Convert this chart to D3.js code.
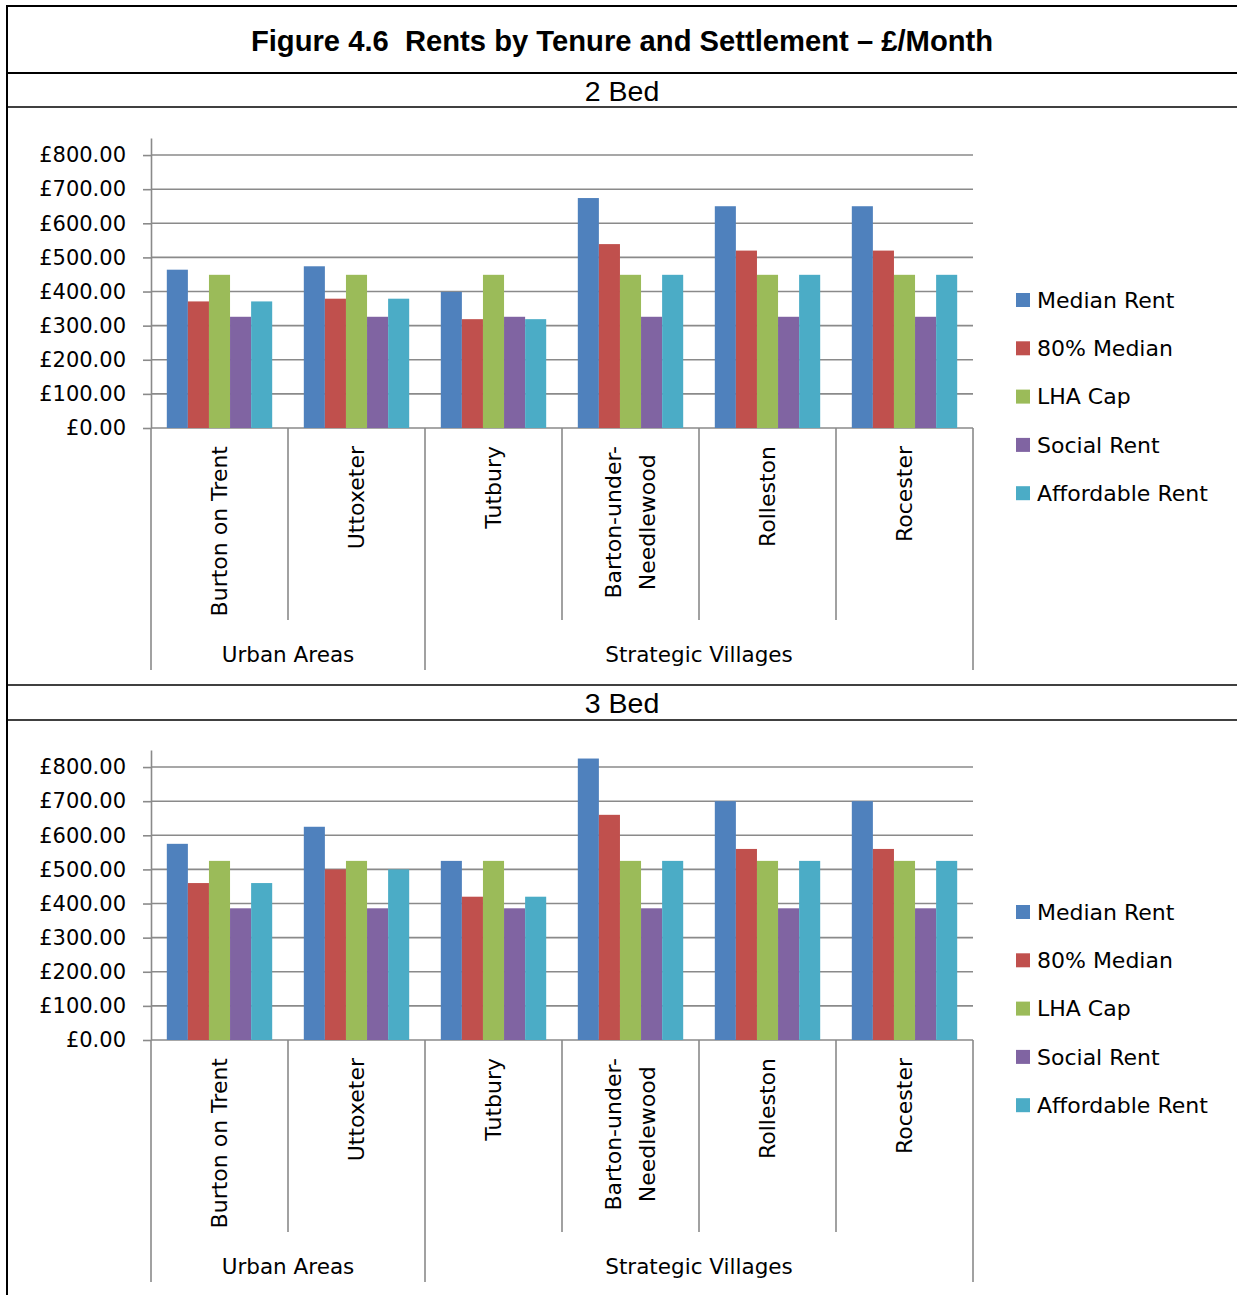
<!DOCTYPE html>
<html>
<head>
  <meta charset='utf-8'>
  <title>Figure 4.6 Rents by Tenure and Settlement</title>
  <script src='https://cdn.jsdelivr.net/npm/d3@7'></script>
  <style>
    body { margin: 0; background: #fff; }
    .table-text { font-family: 'Liberation Sans', Arial, sans-serif; fill: #000; white-space: pre; }
    .chart-text { font-family: 'DejaVu Sans', sans-serif; fill: #000; }
  </style>
</head>
<body>
  <div id='figure'></div>
  <script>
    // settlements, grouped by settlement type
    const settlements = ['Burton on Trent', 'Uttoxeter', 'Tutbury',
        'Barton-under-Needlewood', 'Rolleston', 'Rocester'];
    const settlementLabels = [['Burton on Trent'], ['Uttoxeter'], ['Tutbury'],
        ['Barton-under-', 'Needlewood'], ['Rolleston'], ['Rocester']];
    const groupNames = ['Urban Areas', 'Strategic Villages'];
    const groupSizes = [2, 4];

    const seriesNames = ['Median Rent', '80% Median', 'LHA Cap',
        'Social Rent', 'Affordable Rent'];
    const seriesColors = ['#4f81bd', '#c0504d', '#9bbb59', '#8064a2', '#4bacc6'];

    const yTicks = [0, 100, 200, 300, 400, 500, 600, 700, 800];

    // 2 bed rents (£/month)
    const medianRent2 = [464, 474, 399, 674, 650, 650];
    const pct80Median2 = [371, 379, 319, 539, 520, 520];
    const lhaCap2 = [449, 449, 449, 449, 449, 449];
    const socialRent2 = [326, 326, 326, 326, 326, 326];
    const affordableRent2 = [371, 379, 319, 449, 449, 449];

    // 3 bed rents (£/month)
    const medianRent3 = [575, 625, 525, 825, 700, 700];
    const pct80Median3 = [460, 500, 420, 660, 560, 560];
    const lhaCap3 = [525, 525, 525, 525, 525, 525];
    const socialRent3 = [386, 386, 386, 386, 386, 386];
    const affordableRent3 = [460, 500, 420, 525, 525, 525];

    const panels = [
        { name: '2 Bed', top: 0,
          series: [medianRent2, pct80Median2, lhaCap2, socialRent2, affordableRent2] },
        { name: '3 Bed', top: 612,
          series: [medianRent3, pct80Median3, lhaCap3, socialRent3, affordableRent3] }
    ];

    const gridColor = '#8a8a8a';
    const width = 1237;
    const height = 1295;

    const svg = d3.select('#figure').append('svg')
        .attr('width', width)
        .attr('height', height);

    // table frame (no right edge inside the picture)
    const frame = svg.append('g').attr('stroke', '#000');
    frame.append('line').attr('x1', 7).attr('x2', 7).attr('y1', 5).attr('y2', height)
        .attr('stroke-width', 2);
    [[6, 2], [73, 2], [107, 1.4], [685, 1.4], [720, 1.4]].forEach(([ly, w]) => {
        frame.append('line').attr('x1', 6).attr('x2', width).attr('y1', ly).attr('y2', ly)
            .attr('stroke-width', w);
    });

    svg.append('text')
        .attr('class', 'table-text')
        .attr('x', 622).attr('y', 40).attr('dy', '0.36em')
        .attr('text-anchor', 'middle')
        .style('font-size', '29.2px').style('font-weight', 'bold')
        .text('Figure 4.6  Rents by Tenure and Settlement \u2013 \u00a3/Month');

    const x = d3.scaleBand().domain(settlements).range([151, 973]);
    const xInner = d3.scaleBand().domain(seriesNames)
        .range([0, x.bandwidth()]).paddingOuter(0.75);
    const y = d3.scaleLinear().domain([0, 850]).range([428, 138]);

    panels.forEach(drawPanel);

    function drawPanel(panel) {
        const g = svg.append('g')
            .attr('transform', `translate(0, ${panel.top})`);

        g.append('text')
            .attr('class', 'table-text')
            .attr('x', 622).attr('y', 91).attr('dy', '0.36em')
            .attr('text-anchor', 'middle')
            .style('font-size', '28.5px')
            .text(panel.name);

        // gridlines
        g.selectAll('.grid')
            .data(yTicks)
            .enter().append('line')
            .attr('class', 'grid')
            .attr('x1', 151).attr('x2', 973)
            .attr('y1', d => y(d)).attr('y2', d => y(d))
            .attr('stroke', gridColor)
            .attr('stroke-width', 1.6);

        // value axis
        const yAxis = g.append('g')
            .attr('transform', 'translate(151, 0)')
            .call(d3.axisLeft(y)
                .tickValues(yTicks)
                .tickSize(8)
                .tickSizeOuter(0)
                .tickPadding(17)
                .tickFormat(d => '\u00a3' + d.toFixed(2)));
        yAxis.selectAll('path, line')
            .attr('stroke', gridColor)
            .attr('stroke-width', 1.6);
        yAxis.selectAll('text')
            .attr('class', 'chart-text')
            .attr('fill', '#000')
            .style('font-size', '21px');

        // bars
        panel.series.forEach((values, si) => {
            g.selectAll(`.bar-${si}`)
                .data(values)
                .enter().append('rect')
                .attr('class', `bar-${si}`)
                .attr('x', (d, i) => x(settlements[i]) + xInner(seriesNames[si]))
                .attr('width', xInner.bandwidth())
                .attr('y', d => y(d))
                .attr('height', d => y(0) - y(d))
                .attr('fill', seriesColors[si]);
        });

        // category dividers
        const groupEdges = [0];
        groupSizes.forEach(n => groupEdges.push(groupEdges[groupEdges.length - 1] + n));
        const edges = d3.range(settlements.length + 1);
        const edgeX = i => i < settlements.length ? x(settlements[i]) : x.range()[1];
        g.selectAll('.divider')
            .data(edges)
            .enter().append('line')
            .attr('class', 'divider')
            .attr('x1', edgeX)
            .attr('x2', edgeX)
            .attr('y1', y(0))
            .attr('y2', i => groupEdges.includes(i) ? 670 : 620)
            .attr('stroke', gridColor)
            .attr('stroke-width', 1.6);

        // settlement labels (rotated)
        settlementLabels.forEach((lines, i) => {
            const cx = x(settlements[i]) + x.bandwidth() / 2;
            const lineGap = 34;
            const texts = lines.map((line, li) => {
                const lx = cx + (li - (lines.length - 1) / 2) * lineGap;
                return g.append('text')
                    .attr('class', 'chart-text')
                    .style('font-size', '22px')
                    .attr('dy', '0.35em')
                    .text(line)
                    .datum(lx);
            });
            if (lines.length === 1) {
                texts[0]
                    .attr('text-anchor', 'end')
                    .attr('transform', `translate(${cx}, 446) rotate(-90)`);
            } else {
                const maxLen = d3.max(texts, t => t.node().getComputedTextLength());
                texts.forEach(t => {
                    t.attr('text-anchor', 'middle')
                        .attr('transform',
                            `translate(${t.datum()}, ${446 + maxLen / 2}) rotate(-90)`);
                });
            }
        });

        // group labels
        groupNames.forEach((name, gi) => {
            const x0 = edgeX(groupEdges[gi]);
            const x1 = edgeX(groupEdges[gi + 1]);
            g.append('text')
                .attr('class', 'chart-text')
                .style('font-size', '21.5px')
                .attr('x', (x0 + x1) / 2).attr('y', 654).attr('dy', '0.35em')
                .attr('text-anchor', 'middle')
                .text(name);
        });

        // legend
        const legend = g.selectAll('.legend')
            .data(seriesNames)
            .enter().append('g')
            .attr('class', 'legend')
            .attr('transform', (d, i) => `translate(1016, ${300 + i * 48.3})`);
        legend.append('rect')
            .attr('x', 0).attr('y', -7)
            .attr('width', 14).attr('height', 14)
            .attr('fill', (d, i) => seriesColors[i]);
        legend.append('text')
            .attr('class', 'chart-text')
            .style('font-size', '22px')
            .attr('x', 21).attr('dy', '0.35em')
            .text(d => d);
    }
  </script>
</body>
</html>
